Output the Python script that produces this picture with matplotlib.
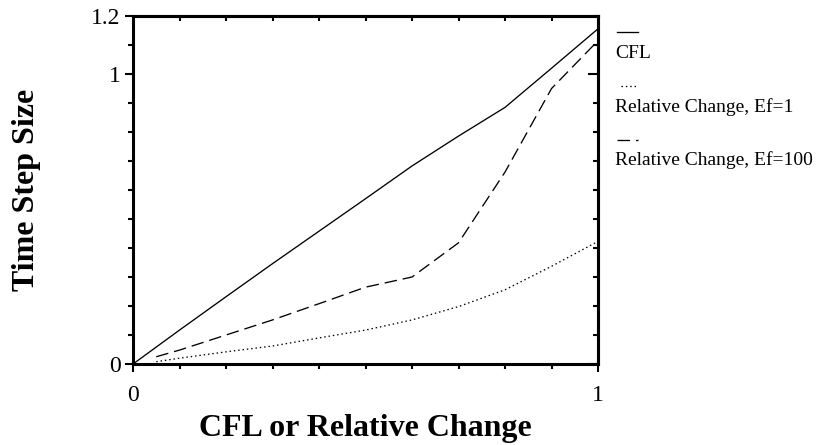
import numpy as np
import matplotlib
matplotlib.use('Agg')
import matplotlib.pyplot as plt
from matplotlib.ticker import MultipleLocator, FixedLocator, NullFormatter

plt.rcParams['font.family'] = ['Liberation Serif', 'DejaVu Serif']

# Data
x_cfl = [0.0, 0.1, 0.2, 0.3, 0.4, 0.5, 0.6, 0.7, 0.8, 0.9, 1.0]
cfl = [0.0, 0.117, 0.232, 0.346, 0.458, 0.57, 0.683, 0.786, 0.885, 1.02, 1.156]

x_rel = [0.05, 0.1, 0.2, 0.3, 0.4, 0.5, 0.6, 0.7, 0.8, 0.9, 1.0]
rel_ef1 = [0.008, 0.02, 0.042, 0.062, 0.09, 0.117, 0.152, 0.198, 0.256, 0.337, 0.423]
rel_ef100 = [0.025, 0.048, 0.10, 0.152, 0.208, 0.265, 0.30, 0.418, 0.662, 0.95, 1.115]

labels = ['CFL', 'Relative Change, Ef=1', 'Relative Change, Ef=100']
y_ticks = [0, 1, 1.2]
y_ticklabels = ['0', '1', '1.2']
x_ticks = [0, 1]
x_ticklabels = ['0', '1']

fig = plt.figure(figsize=(8.17, 4.45), dpi=100)
ax = fig.add_axes([0.1628, 0.182, 0.5692, 0.782])

lw = 0.95
dash_style = (0, (9.5, 4.5))
dot_style = (0, (1.1, 2.2))

ax.plot(x_cfl, cfl, color='black', linewidth=lw, linestyle='-')
ax.plot(x_rel, rel_ef1, color='black', linewidth=lw, linestyle=dot_style)
ax.plot(x_rel, rel_ef100, color='black', linewidth=lw, linestyle=dash_style)

ax.set_xlim(0, 1)
ax.set_ylim(0, 1.2)

for s in ax.spines.values():
    s.set_linewidth(2.2)

# left / bottom ticks point outward
ax.yaxis.set_major_locator(FixedLocator(y_ticks))
ax.set_yticklabels(y_ticklabels)
ax.yaxis.set_minor_locator(MultipleLocator(0.1))
ax.xaxis.set_major_locator(FixedLocator(x_ticks))
ax.set_xticklabels(x_ticklabels)
ax.xaxis.set_minor_locator(MultipleLocator(0.1))
ax.tick_params(which='major', direction='out', length=6, width=1.5, labelsize=17)
ax.tick_params(which='minor', direction='out', length=3.5, width=1.5)
ax.tick_params(axis='x', which='major', pad=9)
ax.tick_params(axis='y', which='major', pad=3)

# right / top ticks point inward
sec_y = ax.secondary_yaxis('right')
sec_y.yaxis.set_major_locator(FixedLocator([0, 1]))
sec_y.yaxis.set_minor_locator(MultipleLocator(0.1))
sec_y.yaxis.set_major_formatter(NullFormatter())
sec_y.tick_params(which='major', direction='in', length=7, width=1.5)
sec_y.tick_params(which='minor', direction='in', length=3.5, width=1.5)
sec_y.spines['right'].set_linewidth(2.2)

sec_x = ax.secondary_xaxis('top')
sec_x.xaxis.set_major_locator(FixedLocator([0, 1]))
sec_x.xaxis.set_minor_locator(MultipleLocator(0.1))
sec_x.xaxis.set_major_formatter(NullFormatter())
sec_x.tick_params(which='major', direction='in', length=0, width=1.5)
sec_x.tick_params(which='minor', direction='in', length=3.5, width=1.5)
sec_x.spines['top'].set_linewidth(2.2)

ax.set_xlabel('CFL or Relative Change', fontsize=23, fontweight='bold', labelpad=6)
ax.set_ylabel('Time Step Size', fontsize=23, fontweight='bold', labelpad=36)

# legend drawn by hand to the right of the axes: short sample line above each label
styles = ['-', dot_style, dash_style]
sample_x = [(1.040, 1.086), (1.050, 1.082), (1.040, 1.086)]
sample_y = [0.953, 0.799, 0.644]
text_y = [0.879, 0.725, 0.572]
for lab, st, sx, sy, ty in zip(labels, styles, sample_x, sample_y, text_y):
    ax.plot(sx, [sy, sy], color='black', linewidth=lw, linestyle=st,
            transform=ax.transAxes, clip_on=False)
    ax.text(1.036, ty, lab, transform=ax.transAxes, fontsize=14,
            ha='left', va='baseline')

fig.savefig('out.png', dpi=100)
